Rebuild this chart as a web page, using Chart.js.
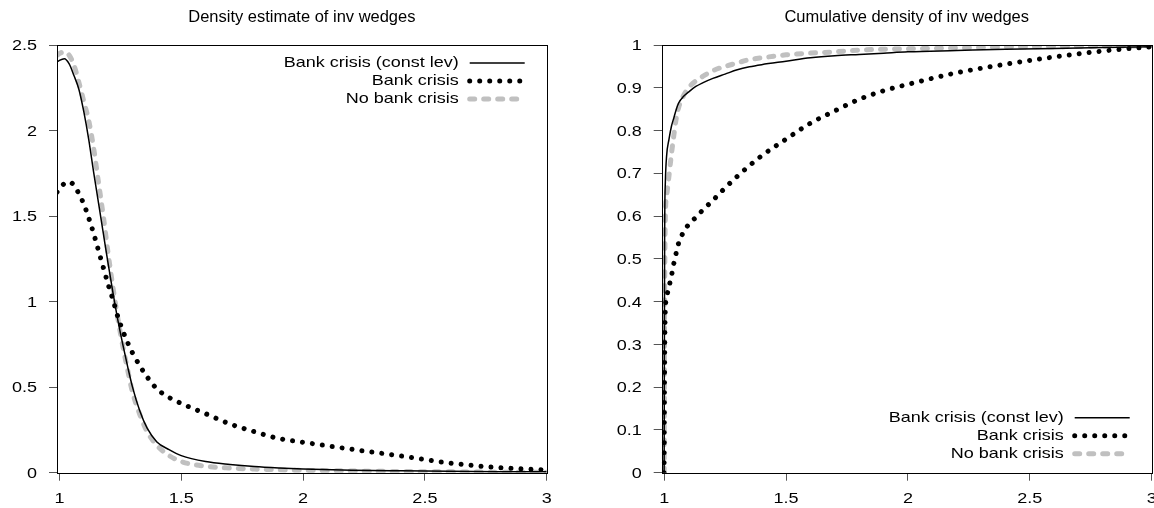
<!DOCTYPE html>
<html>
<head>
<meta charset="utf-8">
<script src="https://cdn.jsdelivr.net/npm/chart.js@4/dist/chart.umd.min.js"></script>
<style>
  html, body { margin: 0; padding: 0; background: #fff; }
  #wrap { position: relative; width: 1154px; height: 508px; }
  .c { position: absolute; top: 0; width: 577px; height: 508px; }
</style>
</head>
<body>
<div id="wrap">
  <div class="c" style="left:0"><canvas id="c1"></canvas></div>
  <div class="c" style="left:577px"><canvas id="c2"></canvas></div>
</div>
<script>
// ---- data ----
const titles = ['Density estimate of inv wedges', 'Cumulative density of inv wedges'];
const seriesLabels = ['Bank crisis (const lev)', 'Bank crisis', 'No bank crisis'];
const xTicks = [1, 1.5, 2, 2.5, 3];
const yTicksDens = [0, 0.5, 1, 1.5, 2, 2.5];
const yTicksCdf = [0, 0.1, 0.2, 0.3, 0.4, 0.5, 0.6, 0.7, 0.8, 0.9, 1];

const densX = [0.99,1.00,1.02,1.04,1.06,1.08,1.10,1.12,1.14,1.16,1.18,1.20,1.22,1.24,1.26,1.28,1.30,1.33,1.36,1.40,1.45,1.50,1.60,1.70,1.80,1.90,2.00,2.20,2.40,2.60,2.80,3.00];
const densConstLev = [2.40,2.41,2.42,2.39,2.32,2.24,2.11,1.95,1.76,1.58,1.40,1.22,1.05,0.89,0.75,0.62,0.50,0.36,0.26,0.18,0.135,0.10,0.065,0.048,0.036,0.028,0.022,0.015,0.011,0.008,0.006,0.005];
const densBank = [1.64,1.66,1.69,1.70,1.68,1.63,1.57,1.49,1.40,1.30,1.20,1.10,1.01,0.91,0.83,0.76,0.70,0.625,0.56,0.49,0.44,0.405,0.345,0.285,0.24,0.20,0.178,0.137,0.098,0.057,0.030,0.016];
const densNoBank = [2.44,2.45,2.46,2.44,2.38,2.28,2.17,2.06,1.90,1.70,1.50,1.28,1.08,0.90,0.74,0.60,0.47,0.34,0.24,0.16,0.10,0.065,0.038,0.027,0.021,0.017,0.014,0.010,0.007,0.005,0.003,0.002];

const cdfX = [1.000,1.002,1.005,1.01,1.02,1.03,1.04,1.05,1.06,1.08,1.10,1.13,1.16,1.20,1.25,1.30,1.35,1.40,1.50,1.60,1.70,1.80,1.90,2.00,2.20,2.40,2.60,2.80,3.00];
const cdfConstLev = [0,0.55,0.68,0.74,0.78,0.81,0.83,0.85,0.865,0.88,0.89,0.903,0.912,0.922,0.932,0.942,0.949,0.954,0.962,0.970,0.975,0.978,0.981,0.984,0.987,0.990,0.992,0.994,0.996];
const cdfBank = [0,0.25,0.38,0.41,0.435,0.46,0.49,0.515,0.538,0.563,0.58,0.597,0.615,0.637,0.666,0.693,0.718,0.741,0.78,0.817,0.846,0.873,0.893,0.908,0.935,0.955,0.972,0.986,0.996];
const cdfNoBank = [0,0.40,0.60,0.645,0.695,0.745,0.79,0.83,0.855,0.882,0.90,0.916,0.927,0.94,0.95,0.958,0.966,0.97,0.977,0.981,0.984,0.988,0.99,0.991,0.993,0.995,0.996,0.997,0.998];

// ---- styles ----
const FONT = 'Liberation Sans, Arial, Helvetica, sans-serif';
const SX = 1.2; // horizontal text stretch seen in the reference
const styles = [
  { borderColor: '#000', borderWidth: 1.5, borderDash: [], borderCapStyle: 'butt' },
  { borderColor: '#000', borderWidth: 5, borderDash: [0.01, 10], borderCapStyle: 'round' },
  { borderColor: '#c0c0c0', borderWidth: 5, borderDash: [5, 9], borderCapStyle: 'round' }
];

function makeDatasets(xs, arrs) {
  return arrs.map((arr, i) => Object.assign({
    label: seriesLabels[i],
    data: xs.map((x, j) => ({ x: x, y: arr[j] })),
    pointRadius: 0,
    fill: false,
    cubicInterpolationMode: 'monotone',
    borderJoinStyle: 'round'
  }, styles[i]));
}

function text(ctx, str, x, y, align, size, sx) {
  ctx.save();
  ctx.translate(x, y);
  ctx.scale(sx, 1);
  ctx.font = size + 'px ' + FONT;
  ctx.textAlign = align;
  ctx.textBaseline = 'middle';
  ctx.fillStyle = '#000';
  ctx.fillText(str, 0, 0);
  ctx.restore();
}

const framePlugin = {
  id: 'frameAndLegend',
  afterDraw(chart) {
    const ctx = chart.ctx;
    const a = chart.chartArea;
    const o = chart.options.plugins.frameAndLegend;
    ctx.save();
    ctx.strokeStyle = '#000';
    ctx.lineWidth = 1;
    ctx.strokeRect(Math.round(a.left) + 0.5, Math.round(a.top) + 0.5,
                   Math.round(a.right - a.left), Math.round(a.bottom - a.top));
    ctx.restore();
    // tick labels
    const xs = chart.scales.x, ys = chart.scales.y;
    xs.ticks.forEach(t => text(ctx, String(t.value), xs.getPixelForValue(t.value), a.bottom + 26, 'center', 15, SX));
    ys.ticks.forEach(t => text(ctx, String(t.value), a.left - 20, ys.getPixelForValue(t.value) + 1, 'right', 15, SX));
    // title
    text(ctx, o.title, (a.left + a.right) / 2, 18, 'center', 16, 1.03);
    // legend
    chart.data.datasets.forEach((ds, i) => {
      const y = o.legendTop ? a.top + 18 + 18 * i : a.bottom - 55 + 18 * i;
      text(ctx, ds.label, a.right - 88, y, 'right', 15, SX);
      ctx.save();
      ctx.beginPath();
      ctx.strokeStyle = ds.borderColor;
      ctx.lineWidth = ds.borderWidth;
      ctx.setLineDash(ds.borderDash);
      ctx.lineCap = ds.borderCapStyle;
      ctx.moveTo(a.right - 77, y);
      ctx.lineTo(a.right - 22, y);
      ctx.stroke();
      ctx.restore();
    });
  }
};

function makeChart(id, xs, arrs, yTicks, padLeft, padRight, title, legendTop) {
  return new Chart(document.getElementById(id), {
    type: 'line',
    data: { datasets: makeDatasets(xs, arrs) },
    plugins: [framePlugin],
    options: {
      responsive: true,
      maintainAspectRatio: false,
      animation: false,
      layout: { padding: { left: padLeft, right: padRight, top: 45, bottom: 0 } },
      plugins: {
        legend: { display: false },
        tooltip: { enabled: false },
        frameAndLegend: { title: title, legendTop: legendTop }
      },
      scales: {
        x: {
          type: 'linear',
          min: 0.99, max: 3,
          afterBuildTicks: s => { s.ticks = xTicks.map(v => ({ value: v })); },
          afterFit: s => { s.height = 35.3; s.paddingLeft = 0; s.paddingRight = 0; },
          border: { display: false },
          grid: { drawOnChartArea: false, drawTicks: true, tickLength: 8, tickColor: '#555', lineWidth: 1 },
          ticks: { display: false, autoSkip: false }
        },
        y: {
          type: 'linear',
          min: yTicks[0], max: yTicks[yTicks.length - 1],
          afterBuildTicks: s => { s.ticks = yTicks.map(v => ({ value: v })); },
          afterFit: s => { s.width = 57; s.paddingTop = 0; s.paddingBottom = 0; },
          border: { display: false },
          grid: { drawOnChartArea: false, drawTicks: true, tickLength: 8, tickColor: '#555', lineWidth: 1 },
          ticks: { display: false, autoSkip: false }
        }
      }
    }
  });
}

makeChart('c1', densX, [densConstLev, densBank, densNoBank], yTicksDens, 0, 30.3, titles[0], true);
makeChart('c2', cdfX, [cdfConstLev, cdfBank, cdfNoBank], yTicksCdf, 27.7, 2.3, titles[1], false);
</script>
</body>
</html>
